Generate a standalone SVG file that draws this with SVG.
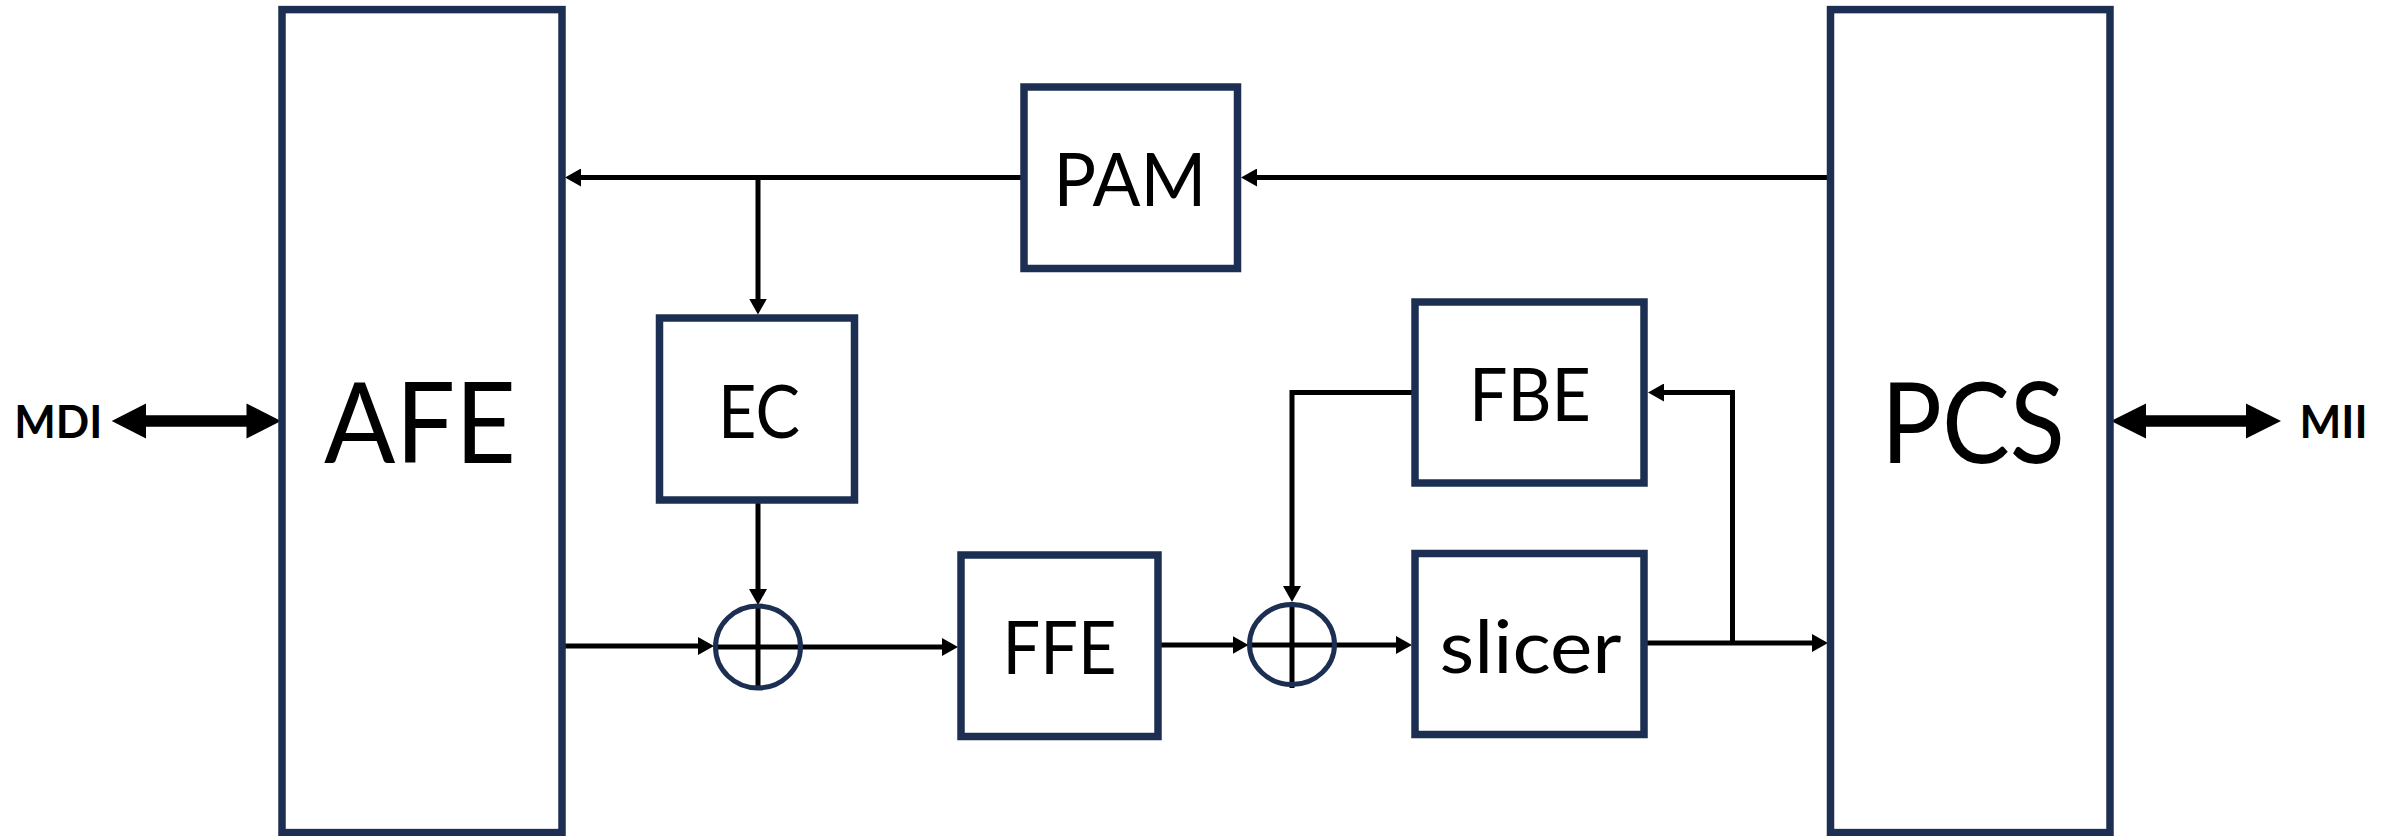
<svg xmlns="http://www.w3.org/2000/svg" width="2399" height="836" viewBox="0 0 2399 836">
<style>
.box{fill:#fff;stroke:#1c2f52;stroke-width:7.5}
.sum{fill:none;stroke:#1c2f52;stroke-width:5}
.ln{fill:none;stroke:#000;stroke-width:5}
.lbl{font-family:Lato,"Open Sans","Liberation Sans",sans-serif;fill:#000;text-anchor:middle}
.big{font-size:112px}
.mid{font-size:74px}
.port{font-size:45px;font-weight:bold}
</style>
<defs>
<marker id="ah" markerUnits="userSpaceOnUse" viewBox="0 0 16 18" markerWidth="16" markerHeight="18" refX="4" refY="9" orient="auto">
<path d="M0,0 L16,9 L0,18 z" fill="#000"/>
</marker>
</defs>
<rect width="2399" height="836" fill="#fff"/>
<g id="connectors">
<line class="ln" x1="1830" y1="177.5" x2="1253" y2="177.5" marker-end="url(#ah)"/>
<line class="ln" x1="1024" y1="177.5" x2="577" y2="177.5" marker-end="url(#ah)"/>
<line class="ln" x1="758" y1="177.5" x2="758" y2="302.5" marker-end="url(#ah)"/>
<line class="ln" x1="758" y1="503" x2="758" y2="593" marker-end="url(#ah)"/>
<line class="ln" x1="565" y1="646" x2="702" y2="646" marker-end="url(#ah)"/>
<line class="ln" x1="715" y1="647" x2="946" y2="647" marker-end="url(#ah)"/>
<line class="ln" x1="758" y1="605" x2="758" y2="688"/>
<line class="ln" x1="1160" y1="645" x2="1236.5" y2="645" marker-end="url(#ah)"/>
<line class="ln" x1="1249" y1="645" x2="1400" y2="645" marker-end="url(#ah)"/>
<line class="ln" x1="1292" y1="602" x2="1292" y2="688"/>
<polyline class="ln" points="1412,392.5 1292,392.5 1292,590" marker-end="url(#ah)"/>
<line class="ln" x1="1647" y1="643" x2="1816" y2="643" marker-end="url(#ah)"/>
<polyline class="ln" points="1732.5,643 1732.5,392.5 1660,392.5" marker-end="url(#ah)"/>
<polygon fill="#000" points="111.7,421 146,403.5 146,415.2 246.5,415.2 246.5,403.5 281,421 246.5,438.5 246.5,426.8 146,426.8 146,438.5"/>
<polygon fill="#000" points="2111,421 2146,403.5 2146,415.2 2246,415.2 2246,403.5 2281,421 2246,438.5 2246,426.8 2146,426.8 2146,438.5"/>
</g>
<g id="afe"><rect class="box" x="282" y="9.6" width="280" height="823"/><text class="lbl big" x="420" y="463" textLength="192" lengthAdjust="spacingAndGlyphs">AFE</text></g>
<g id="pcs"><rect class="box" x="1830.5" y="9.6" width="279.5" height="823"/><text class="lbl big" x="1973" y="463" textLength="184" lengthAdjust="spacingAndGlyphs">PCS</text></g>
<g id="pam"><rect class="box" x="1024" y="87" width="213.5" height="181.5"/><text class="lbl mid" x="1130" y="206" textLength="153" lengthAdjust="spacingAndGlyphs">PAM</text></g>
<g id="ec"><rect class="box" x="659.5" y="318" width="195" height="182"/><text class="lbl mid" x="759" y="438" textLength="82" lengthAdjust="spacingAndGlyphs">EC</text></g>
<g id="fbe"><rect class="box" x="1415" y="302" width="229" height="181"/><text class="lbl mid" x="1530" y="421" textLength="122" lengthAdjust="spacingAndGlyphs">FBE</text></g>
<g id="ffe"><rect class="box" x="961" y="555" width="197" height="181.5"/><text class="lbl mid" x="1059.5" y="674" textLength="114" lengthAdjust="spacingAndGlyphs">FFE</text></g>
<g id="slicer"><rect class="box" x="1415" y="553.5" width="229" height="181"/><text class="lbl mid" x="1530.5" y="672.6" textLength="182" lengthAdjust="spacingAndGlyphs">slicer</text></g>
<g id="sum1"><ellipse class="sum" cx="758" cy="647" rx="42.5" ry="41"/></g>
<g id="sum2"><ellipse class="sum" cx="1292" cy="644.5" rx="42.5" ry="40"/></g>
<g id="mdi"><text class="lbl port" x="58.2" y="438" textLength="88" lengthAdjust="spacingAndGlyphs">MDI</text></g>
<g id="mii"><text class="lbl port" x="2333.5" y="438" textLength="68" lengthAdjust="spacingAndGlyphs">MII</text></g>
</svg>
